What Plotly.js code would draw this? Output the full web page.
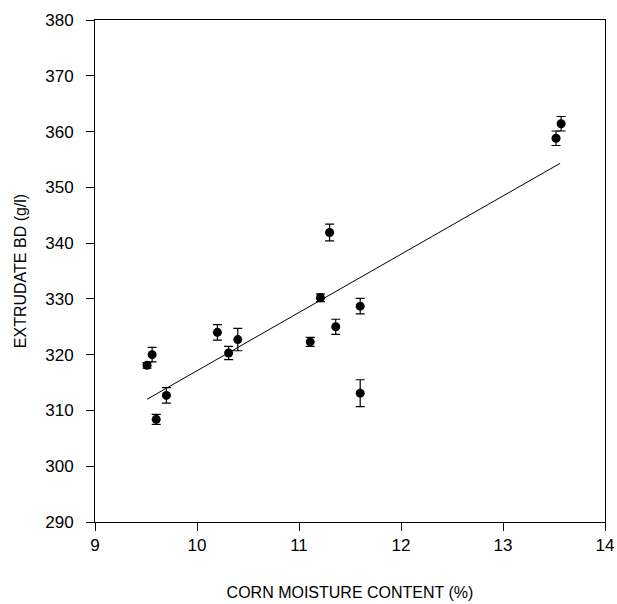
<!DOCTYPE html>
<html>
<head>
<meta charset="utf-8">
<script src="https://cdn.plot.ly/plotly-3.0.1.min.js"></script>
<style>html,body{margin:0;padding:0;background:#fff;}#chart{width:617px;height:604px;}</style>
</head>
<body>
<div id="chart"></div>
<script>
// Corn moisture content (%) and extrudate bulk density (g/l)
var moisture = [9.51, 9.56, 9.60, 9.70, 10.20, 10.31, 10.40, 11.11, 11.21, 11.30, 11.36, 11.60, 11.60, 13.52, 13.57];
var bulkDensity = [318.1, 320.0, 308.4, 312.7, 324.0, 320.3, 322.7, 322.3, 330.2, 341.9, 325.0, 328.7, 313.1, 358.8, 361.4];
var bdError = [0.5, 1.3, 0.9, 1.4, 1.4, 1.2, 2.0, 0.8, 0.7, 1.5, 1.35, 1.4, 2.4, 1.3, 1.3];
// regression line end points
var fitX = [9.51, 13.56];
var fitY = [312.0, 354.3];
var xTicks = [9, 10, 11, 12, 13, 14];
var yTicks = [290, 300, 310, 320, 330, 340, 350, 360, 370, 380];

var traces = [
  {
    x: fitX, y: fitY, mode: 'lines', type: 'scatter',
    line: {color: '#000', width: 1}, hoverinfo: 'skip', showlegend: false
  },
  {
    x: moisture, y: bulkDensity, mode: 'markers', type: 'scatter',
    marker: {color: '#000', size: 9},
    error_y: {type: 'data', array: bdError, visible: true, color: '#000', thickness: 1.2, width: 4.5},
    showlegend: false
  }
];

var fam = 'Liberation Sans, Arial, sans-serif';
var layout = {
  width: 617, height: 604,
  margin: {l: 95, r: 12, t: 20, b: 82},
  paper_bgcolor: '#fff', plot_bgcolor: '#fff',
  showlegend: false,
  xaxis: {
    range: [9, 14], tickvals: xTicks, ticktext: xTicks.map(String),
    showgrid: false, zeroline: false,
    showline: true, mirror: true, linecolor: '#000', linewidth: 1,
    ticks: 'outside', ticklen: 8, tickwidth: 1, tickcolor: '#000',
    tickfont: {family: fam, color: '#000', size: 17},
    title: {text: 'CORN MOISTURE CONTENT (%)', font: {family: fam, color: '#000', size: 16}, standoff: 32}
  },
  yaxis: {
    range: [290, 380], tickvals: yTicks, ticktext: yTicks.map(String),
    showgrid: false, zeroline: false,
    showline: true, mirror: true, linecolor: '#000', linewidth: 1,
    ticks: 'outside', ticklen: 8, tickwidth: 1, tickcolor: '#000',
    ticklabelstandoff: 9,
    tickfont: {family: fam, color: '#000', size: 17},
    title: {text: 'EXTRUDATE BD (g/l)', font: {family: fam, color: '#000', size: 16}, standoff: 14}
  }
};

Plotly.newPlot('chart', traces, layout, {staticPlot: true, displayModeBar: false});
</script>
</body>
</html>
